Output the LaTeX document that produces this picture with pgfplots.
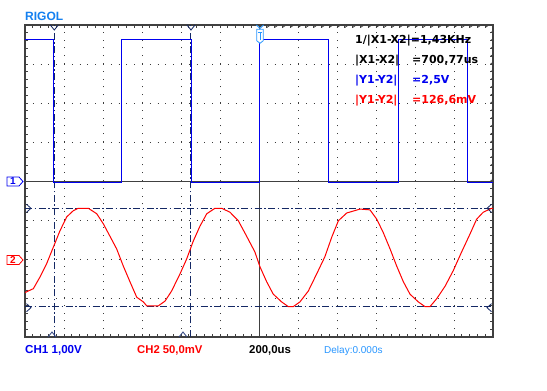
\documentclass[border=0pt]{standalone}
\usepackage{pgfplots}
\pgfplotsset{compat=1.18}
\usepackage{pgfplotstable}
\usepackage{fontspec}
\setmainfont{Liberation Sans}
\newfontfamily\dvs{DejaVu Sans}
\definecolor{chone}{RGB}{0,0,240}
\definecolor{chtwo}{RGB}{255,0,0}
\definecolor{cur}{RGB}{20,40,100}
\definecolor{curlight}{RGB}{50,70,130}
\definecolor{rigol}{RGB}{20,128,240}
\definecolor{trig}{RGB}{40,150,255}
\definecolor{frame}{RGB}{64,64,64}
\definecolor{griddot}{RGB}{60,60,60}
\pgfplotstableread{
t mv
-1200 -43
-1157 -38
-1123 -23
-1089 -6
-1055 15
-1021 36
-986 54
-952 62
-927 65
-875 65
-832 58
-798 45
-764 29
-730 13
-696 -9
-662 -29
-627 -49
-593 -55
-576 -60
-516 -60
-482 -54
-448 -41
-405 -19
-371 0
-337 23
-303 42
-268 58
-226 65
-191 65
-149 60
-106 49
-63 29
-21 9
5 -10
39 -29
73 -45
116 -55
150 -61
176 -61
210 -55
253 -41
296 -19
338 3
373 28
407 49
450 59
518 64
569 63
604 51
637 34
672 13
706 -9
740 -29
774 -45
817 -55
851 -61
877 -61
911 -51
954 -35
996 -15
1039 9
1082 32
1116 51
1150 60
1193 65
1200 65
}\chtwodata
\begin{document}
\begin{tikzpicture}
\fill[white] (0,0) rectangle (547bp,391bp);
\path[use as bounding box] (0,0) rectangle (547bp,391bp);
\begin{axis}[
  at={(25bp,54bp)}, anchor=south west,
  width=468bp, height=312bp, scale only axis,
  xmin=-1200, xmax=1200, ymin=-4, ymax=4,
  xtick={-1200,-1000,...,1200}, ytick={-4,-3,...,4},
  minor x tick num=4, minor y tick num=4,
  xticklabels={}, yticklabels={},
  tick align=inside, major tick length=3bp, minor tick length=3bp,
  tick style={frame, line width=0.8bp},
  grid=major,
  major grid style={griddot, line width=1bp, dash pattern=on 1bp off 6.8bp},
  axis line style={frame, line width=2bp},
  clip=true,
]
% centre lines with ticks
\draw[frame, line width=0.8bp] (axis cs:-1200,0) -- (axis cs:1200,0);
\draw[frame, line width=0.8bp] (axis cs:0,-4) -- (axis cs:0,4);
\pgfplotsinvokeforeach{-1200,-1160,...,1200}{\draw[frame,line width=0.8bp] (axis cs:#1,0) ++(0,-2.5bp) -- ++(0,5bp);}
\pgfplotsinvokeforeach{-4,-3.8,...,4}{\draw[frame,line width=0.8bp] (axis cs:0,#1) ++(-2.5bp,0) -- ++(5bp,0);}
% cursors
\draw[cur, line width=1bp, dash pattern=on 7bp off 2.5bp on 1.5bp off 2.5bp] (axis cs:-1050,-4) -- (axis cs:-1050,4);
\draw[cur, line width=1bp, dash pattern=on 7bp off 2.5bp on 1.5bp off 2.5bp] (axis cs:-349,-4) -- (axis cs:-349,4);
\draw[cur, line width=1bp, dash pattern=on 7bp off 2.5bp on 1.5bp off 2.5bp] (axis cs:-1200,-0.694) -- (axis cs:1200,-0.694);
\draw[cur, line width=1bp, dash pattern=on 7bp off 2.5bp on 1.5bp off 2.5bp] (axis cs:-1200,-3.226) -- (axis cs:1200,-3.226);
% traces
\addplot[chtwo, line width=1bp, mark=none] table[x=t, y expr=\thisrow{mv}/50-2] {\chtwodata};
\addplot[chone, line width=1bp, mark=none] coordinates {
(-1200,3.64) (-1056,3.64) (-1056,-0.04) (-703,-0.04) (-703,3.64) (-344,3.64) (-344,-0.04)
(0,-0.04) (0,3.64) (354,3.64) (354,-0.04) (713,-0.04) (713,3.64) (1067,3.64) (1067,-0.04) (1200,-0.04)};
\end{axis}
% cursor markers (absolute)
\draw[cur, line width=0.8bp] (50.3bp,366bp) -- (54.3bp,361bp) -- (58.3bp,366bp);
\draw[cur, line width=0.8bp] (187bp,366bp) -- (191bp,361bp) -- (195bp,366bp);
\draw[curlight, line width=0.8bp] (48bp,54bp) -- (52bp,59bp) -- (56bp,54bp);
\draw[curlight, line width=0.8bp] (179bp,54bp) -- (183bp,59bp) -- (187bp,54bp);
\draw[cur, line width=0.8bp] (26.5bp,186.7bp) -- (31bp,182.7bp) -- (26.5bp,178.7bp);
\draw[cur, line width=0.8bp] (26.5bp,87.3bp) -- (31bp,83.3bp) -- (26.5bp,79.3bp);
\draw[cur, line width=0.8bp] (491.5bp,186.7bp) -- (487bp,182.7bp) -- (491.5bp,178.7bp);
\draw[cur, line width=0.8bp] (491.5bp,87.3bp) -- (487bp,83.3bp) -- (491.5bp,79.3bp);
% trigger marker
\draw[trig, line width=0.8bp] (256.5bp,366bp) -- (260bp,362.5bp) -- (263.5bp,366bp);
\draw[trig, line width=0.8bp, fill=white] (256.7bp,361.7bp) -- (263.3bp,361.7bp) -- (263.3bp,350.3bp) -- (260bp,347.7bp) -- (256.7bp,350.3bp) -- cycle;
\draw[trig, line width=0.8bp] (258bp,358.3bp) -- (262bp,358.3bp);
\draw[trig, line width=0.8bp] (260bp,358.3bp) -- (260bp,350.5bp);
% channel markers
\draw[chone, line width=0.8bp] (7bp,214bp) -- (19bp,214bp) -- (23bp,209.5bp) -- (19bp,205bp) -- (7bp,205bp) -- cycle;
\node[text=chone, inner sep=0, font=\fontsize{10bp}{10bp}\selectfont\bfseries] at (13bp,209.5bp) {1};
\draw[chtwo, line width=0.8bp] (7bp,135.5bp) -- (19bp,135.5bp) -- (23bp,131bp) -- (19bp,126.5bp) -- (7bp,126.5bp) -- cycle;
\node[text=chtwo, inner sep=0, font=\fontsize{10bp}{10bp}\selectfont\bfseries] at (13bp,131bp) {2};
% texts
\node[anchor=base west, inner sep=0, text=rigol, font=\fontsize{12bp}{12bp}\selectfont\bfseries] at (25bp,370.3bp) {RIGOL};
\node[anchor=base west, inner sep=0, text=black, font=\fontsize{11bp}{11bp}\dvs\bfseries] at (355bp,347.7bp) {1/|X1-X2|=1,43KHz};
\node[anchor=base west, inner sep=0, text=black, font=\fontsize{11bp}{11bp}\dvs\bfseries] at (355bp,327.7bp) {|X1-X2|};
\node[anchor=base west, inner sep=0, text=black, font=\fontsize{11bp}{11bp}\dvs\bfseries] at (412bp,327.7bp) {=700,77us};
\node[anchor=base west, inner sep=0, text=chone, font=\fontsize{11bp}{11bp}\dvs\bfseries] at (355bp,307.7bp) {|Y1-Y2|};
\node[anchor=base west, inner sep=0, text=chone, font=\fontsize{11bp}{11bp}\dvs\bfseries] at (412bp,307.7bp) {=2,5V};
\node[anchor=base west, inner sep=0, text=chtwo, font=\fontsize{11bp}{11bp}\dvs\bfseries] at (355bp,287.7bp) {|Y1-Y2|};
\node[anchor=base west, inner sep=0, text=chtwo, font=\fontsize{11bp}{11bp}\dvs\bfseries] at (412bp,287.7bp) {=126,6mV};
\node[anchor=base west, inner sep=0, text=chone, font=\fontsize{11.6bp}{12bp}\selectfont\bfseries] at (25bp,37.7bp) {CH1 1,00V};
\node[anchor=base west, inner sep=0, text=chtwo, font=\fontsize{11.3bp}{12bp}\selectfont\bfseries] at (137bp,37.7bp) {CH2 50,0mV};
\node[anchor=base west, inner sep=0, text=black, font=\fontsize{11.4bp}{12bp}\selectfont\bfseries] at (249bp,37.7bp) {200,0us};
\node[anchor=base west, inner sep=0, text=trig, font=\fontsize{10bp}{12bp}\selectfont] at (324bp,37.7bp) {Delay:0.000s};
\end{tikzpicture}
\end{document}
